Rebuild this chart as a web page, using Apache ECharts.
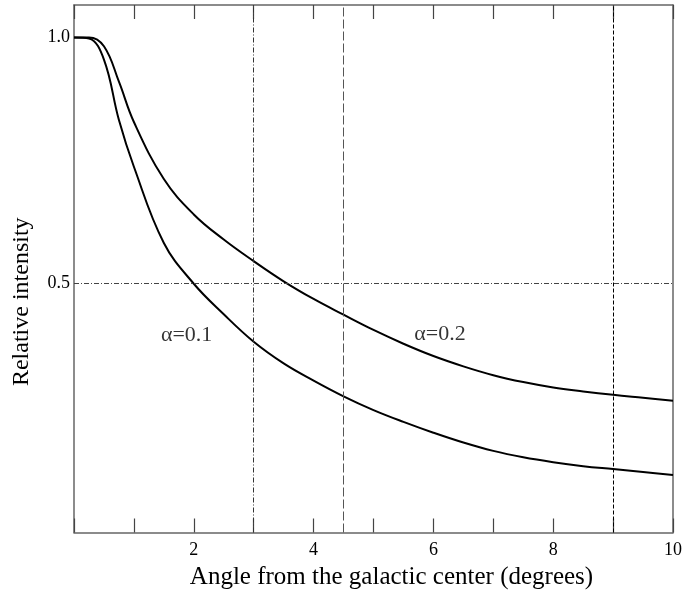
<!DOCTYPE html>
<html>
<head>
<meta charset="utf-8">
<script src="https://cdn.jsdelivr.net/npm/echarts@6/dist/echarts.min.js"></script>
<style>
  html, body { margin: 0; padding: 0; background: #fff; }
  #chart { width: 685px; height: 599px; }
</style>
</head>
<body>
<div id="chart"></div>
<script>
// Angle from the galactic center (degrees)
const angles = [0, 0.25, 0.5, 0.75, 1.0, 1.5, 2.0, 2.5, 3.0, 3.5, 4.0, 4.5, 5.0, 5.5, 6.0, 6.5, 7.0, 7.5, 8.0, 8.5, 9.0, 9.5, 10.0];
// Relative intensity, alpha = 0.1 (lower curve)
const alpha01 = [1.0, 0.998, 0.955, 0.832, 0.737, 0.582, 0.499, 0.437, 0.381, 0.337, 0.302, 0.270, 0.242, 0.218, 0.196, 0.176, 0.159, 0.146, 0.136, 0.128, 0.122, 0.116, 0.110];
// Relative intensity, alpha = 0.2 (upper curve)
const alpha02 = [1.0, 1.0, 0.982, 0.910, 0.828, 0.712, 0.640, 0.589, 0.545, 0.504, 0.468, 0.436, 0.405, 0.377, 0.352, 0.331, 0.313, 0.299, 0.288, 0.280, 0.273, 0.267, 0.261];
// Reference guide lines
const guideX = [3, 4.5, 9];
const guideY = [0.5];
// Tick labels
const xTickLabels = [2, 4, 6, 8, 10];
const yTickLabels = [0.5, 1.0];
// Curve annotations [x, y, text]
const annotations = [[1.88, 0.395, 'α=0.1'], [6.11, 0.397, 'α=0.2']];

const FONT = '"Liberation Serif", "DejaVu Serif", serif';
const guideStyles = [
  { type: [5, 2, 1, 2], color: '#333' },
  { type: [9, 3], color: '#555' },
  { type: [4, 2], color: '#000' }
];

const chart = echarts.init(document.getElementById('chart'), null, { renderer: 'canvas' });

const axisLine = { show: true, onZero: false, lineStyle: { color: '#666', width: 1.5 } };

const option = {
  animation: false,
  backgroundColor: '#fff',
  grid: { left: 74, right: 7.5, top: 5, bottom: 66.5, containLabel: false },
  xAxis: [
    {
      type: 'value', min: 0, max: 10, interval: 1, position: 'bottom',
      axisLine: axisLine,
      axisTick: { show: true, inside: true, length: 14, lineStyle: { color: '#444', width: 1.2 } },
      axisLabel: {
        show: true, customValues: xTickLabels, margin: 9,
        fontFamily: FONT, fontSize: 18, color: '#000',
        formatter: v => String(v)
      },
      splitLine: { show: false },
      name: 'Angle from the galactic center (degrees)',
      nameLocation: 'middle', nameGap: 32,
      nameTextStyle: { fontFamily: FONT, fontSize: 25, color: '#000', padding: [0, 0, 0, 36] }
    },
    {
      type: 'value', min: 0, max: 10, interval: 1, position: 'top',
      axisLine: axisLine,
      axisTick: { show: true, inside: true, length: 14, lineStyle: { color: '#444', width: 1.2 } },
      axisLabel: { show: false },
      splitLine: { show: false }
    }
  ],
  yAxis: [
    {
      type: 'value', min: -0.007, max: 1.066, position: 'left',
      axisLine: axisLine,
      axisTick: { show: false },
      axisLabel: {
        show: true, customValues: yTickLabels, margin: 4,
        fontFamily: FONT, fontSize: 18, color: '#000',
        formatter: v => v.toFixed(1)
      },
      splitLine: { show: false },
      name: 'Relative intensity',
      nameLocation: 'middle', nameGap: 40, nameRotate: 90,
      nameTextStyle: { fontFamily: FONT, fontSize: 24, color: '#000', padding: [0, 66, 0, 0] }
    },
    {
      type: 'value', min: -0.007, max: 1.066, position: 'right',
      axisLine: axisLine,
      axisTick: { show: false },
      axisLabel: { show: false },
      splitLine: { show: false }
    }
  ],
  series: [
    {
      name: 'α=0.1', type: 'line',
      data: angles.map((a, i) => [a, alpha01[i]]),
      smooth: 0.4, showSymbol: false,
      lineStyle: { color: '#000', width: 2 },
      z: 3,
      markLine: {
        silent: true, symbol: ['none', 'none'], animation: false,
        label: { show: false },
        data: guideX.map((x, i) => ({ xAxis: x, lineStyle: Object.assign({ width: 1 }, guideStyles[i]) }))
          .concat(guideY.map(y => ({ yAxis: y, lineStyle: { width: 1, type: [5, 2, 1, 2], color: '#444' } })))
      }
    },
    {
      name: 'α=0.2', type: 'line',
      data: angles.map((a, i) => [a, alpha02[i]]),
      smooth: 0.4, showSymbol: false,
      lineStyle: { color: '#000', width: 2 },
      z: 3
    },
    {
      name: 'labels', type: 'scatter',
      data: annotations,
      symbolSize: 0,
      label: {
        show: true, position: 'inside',
        formatter: p => p.value[2],
        fontFamily: FONT, fontSize: 22, color: '#000'
      },
      silent: true
    }
  ]
};

chart.setOption(option);
</script>
</body>
</html>
